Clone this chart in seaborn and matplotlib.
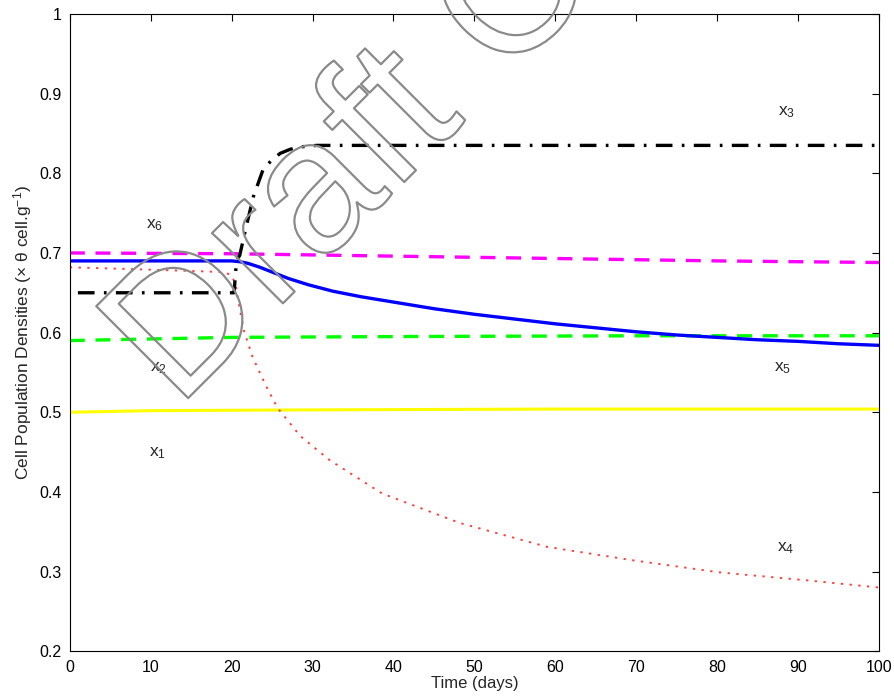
import numpy as np
import pandas as pd
import seaborn as sns
import matplotlib.pyplot as plt
import matplotlib.patheffects as pe
from matplotlib.ticker import FuncFormatter

sns.set_style("white")
plt.rcParams['font.family'] = ['Liberation Sans', 'DejaVu Sans']
plt.rcParams['mathtext.fontset'] = 'custom'
plt.rcParams['mathtext.rm'] = 'Liberation Sans'
plt.rcParams['mathtext.it'] = 'Liberation Sans:italic'

# valores
t_x1 = [0, 10, 30, 60, 100]
x1 = [0.500, 0.502, 0.503, 0.504, 0.504]

t_x2 = [0, 10, 20, 40, 70, 100]
x2 = [0.590, 0.592, 0.594, 0.595, 0.596, 0.596]

t_x3 = [1, 10, 20.3, 20.6, 21.0, 21.8, 22.7, 23.9, 25.0, 26.0, 27.2, 28.4, 30.5, 32.5, 60, 100]
x3 = [0.650, 0.650, 0.650, 0.690, 0.697, 0.733, 0.771, 0.805, 0.817, 0.825, 0.830,
      0.833, 0.835, 0.835, 0.835, 0.835]

t_x4 = [0, 10, 19, 20, 20.5, 21, 21.5, 22.6, 24.3, 25.7, 28.5, 32.1, 38.6, 48.2,
        59.0, 69.7, 80.3, 91.1, 100]
x4 = [0.682, 0.679, 0.676, 0.672, 0.660, 0.630, 0.603, 0.569, 0.532, 0.505, 0.470,
      0.440, 0.398, 0.361, 0.331, 0.314, 0.299, 0.289, 0.280]

t_x5 = [0, 10, 20, 21, 22, 23.5, 25, 27, 29.5, 32.5, 36, 40.8, 45, 50, 55, 60,
        65, 70, 75, 80, 85, 90, 95, 100]
x5 = [0.690, 0.690, 0.690, 0.689, 0.687, 0.682, 0.676, 0.668, 0.660, 0.652, 0.645,
      0.637, 0.630, 0.623, 0.617, 0.611, 0.606, 0.601, 0.597, 0.594, 0.591, 0.589,
      0.586, 0.584]

t_x6 = [0, 20, 40, 60, 80, 100]
x6 = [0.700, 0.699, 0.696, 0.693, 0.690, 0.688]

labels = ['x_1', 'x_2', 'x_3', 'x_4', 'x_5', 'x_6']
label_t = [10.9, 10.9, 88.6, 88.5, 88.1, 10.5]
label_y = [0.449, 0.555, 0.877, 0.329, 0.555, 0.735]

fig = plt.figure(figsize=(8.95, 6.98), dpi=100)
ax = fig.add_axes([0.078, 0.067, 0.904, 0.913])

sns.lineplot(x=t_x1, y=x1, color='#ffff00', lw=2.2, ax=ax)
sns.lineplot(x=t_x2, y=x2, color='#00ff00', lw=2.4, ax=ax)
sns.lineplot(x=t_x6, y=x6, color='#ff00ff', lw=2.4, ax=ax)
sns.lineplot(x=t_x5, y=x5, color='#0000ff', lw=2.4, ax=ax)
sns.lineplot(x=t_x4, y=x4, color='#ff4040', lw=1.4, ax=ax)
sns.lineplot(x=t_x3, y=x3, color='black', lw=2.4, ax=ax)

lines = ax.get_lines()
lines[1].set_dashes([4.5, 3.2])
lines[2].set_dashes([4.5, 3.2])
lines[4].set_dashes([1.2, 3.3])
lines[5].set_dashes([5, 2.8, 0.8, 2.8])

for lab, tx, ty in zip(labels, label_t, label_y):
    ax.text(tx, ty, r'$\mathregular{' + lab + '}$', fontsize=12.5, ha='center', va='center')

ax.set_xlim(0, 100)
ax.set_ylim(0.2, 1)
ax.set_xticks(np.arange(0, 101, 10))
ax.set_yticks(np.arange(0.2, 1.01, 0.1))
ax.yaxis.set_major_formatter(FuncFormatter(lambda v, p: f'{v:g}' if abs(v - 1) > 1e-9 else '1'))
ax.tick_params(direction='in', length=5, width=0.8, top=True, right=True,
               labelsize=11.5, colors='black', pad=6)
for s in ax.spines.values():
    s.set_color('black')
    s.set_linewidth(0.8)

ax.set_xlabel('Time (days)', fontsize=12, labelpad=1)
ax.set_ylabel(r'Cell Population Densities (× θ cell.g$^{-1}$)', fontsize=12.5, labelpad=4)

# marca de agua
fig.text(0.198, 0.414, 'Draft Copy', fontsize=136, rotation=45, rotation_mode='anchor',
         ha='left', va='baseline', color=(1, 1, 1, 0), zorder=10,
         path_effects=[pe.Stroke(linewidth=1.6, foreground='#8a8a8a')])

fig.savefig('out.png', dpi=100)
